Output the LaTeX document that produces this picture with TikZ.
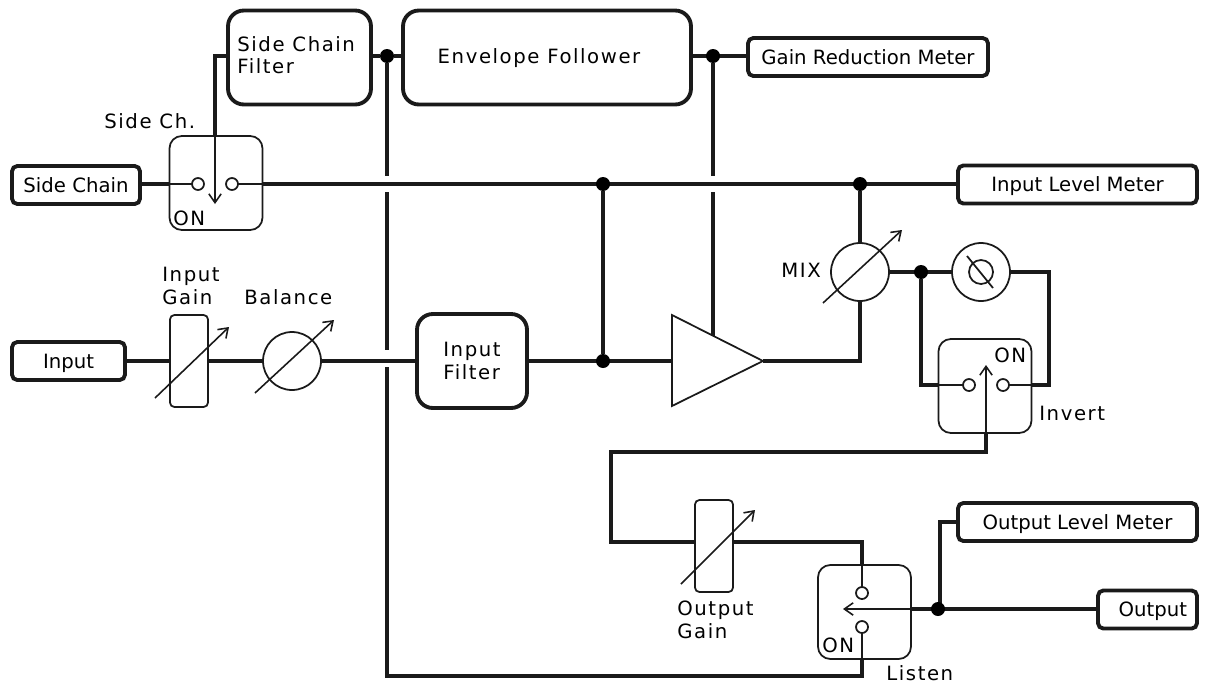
\documentclass[tikz,border=0pt]{standalone}
\usepackage{fontspec}
\setmainfont{DejaVu Sans}
\newfontfamily\labelfont[LetterSpace=8]{DejaVu Sans}
\usetikzlibrary{arrows.meta}
\definecolor{dgink}{HTML}{1A1A1A}
\tikzset{
  wire/.style={line width=2.2pt, draw=dgink},
  thinwire/.style={line width=1pt, draw=dgink},
  ioblock/.style={draw=dgink, line width=2.2pt, rounded corners=3pt, fill=white, inner sep=0pt, minimum height=0.76cm, font=\fontsize{11.2}{12.8}\selectfont, text height=8.2pt, text depth=0pt},
  fxblock/.style={draw=dgink, line width=2.2pt, rounded corners=9pt, fill=white, inner sep=0pt, minimum height=1.88cm},
  switchbox/.style={draw=dgink, line width=1pt, rounded corners=7pt, inner sep=0pt, minimum width=1.86cm, minimum height=1.88cm},
  faderbox/.style={draw=dgink, line width=1pt, fill=white, rounded corners=2.5pt, inner sep=0pt, minimum width=0.76cm, minimum height=1.84cm},
  knob/.style={circle, draw=dgink, line width=1pt, fill=white, inner sep=0pt, minimum size=1.16cm},
  terminal/.style={circle, inner sep=0pt, minimum size=0.24cm},
  junction/.style={circle, inner sep=0pt, minimum size=0.28cm},
  tag/.style={inner sep=0pt, font=\labelfont\fontsize{11.2}{12.9}\selectfont, align=left},
  vararrow/.style={line width=0.9pt, draw=dgink, -{Straight Barb[length=5pt,width=7pt]}}
}
\begin{document}
\begin{tikzpicture}[x=0.02cm,y=-0.02cm]
  \useasboundingbox (0,0) rectangle (1207,683);
  % blocks with a thick outline
  \node[ioblock, minimum width=2.56cm] (sidechain) at (76,185) {Side Chain};
  \node[ioblock, minimum width=2.26cm] (input) at (68.5,361) {Input\hspace{6pt}};
  \node[ioblock, minimum width=4.8cm] (grmeter) at (868,57) {Gain Reduction Meter};
  \node[ioblock, minimum width=4.78cm] (inmeter) at (1077.5,184.5) {Input Level Meter};
  \node[ioblock, minimum width=4.78cm] (outmeter) at (1077.5,522) {Output Level Meter};
  \node[ioblock, minimum width=1.98cm] (output) at (1147.5,609.5) {\hspace{6pt}Output};
  \node[fxblock, minimum width=2.86cm] (scfilter) at (299.5,57.5) {};
  \node[fxblock, minimum width=5.76cm] (envelope) at (547,57.5) {};
  \node[fxblock, minimum width=2.2cm] (infilter) at (472,361) {};
  % routing points
  \coordinate (scbend) at (215,56);
  \coordinate (busgapa) at (387,176);
  \coordinate (busgapb) at (387,192);
  \coordinate (busgapc) at (387,350);
  \coordinate (busgapd) at (387,367);
  \coordinate (buscorner) at (387,676);
  \coordinate (listencorner) at (862,676);
  \coordinate (envgapa) at (713,176);
  \coordinate (envgapb) at (713,192);
  \coordinate (ampa) at (672,315);
  \coordinate (ampb) at (672,406);
  \coordinate (ampc) at (763,361);
  \coordinate (ampfb) at (713,336);
  \coordinate (mixbend) at (860,361);
  \coordinate (phibend) at (1049,272);
  \coordinate (invfoot) at (986,452);
  \coordinate (loopa) at (611,452);
  \coordinate (loopb) at (611,542);
  \coordinate (ogbend) at (862,542);
  \coordinate (ombend) at (940,522);
  % junctions
  \node[junction] (jbus) at (387,56) {};
  \node[junction] (jenv) at (713,56) {};
  \node[junction] (jsplit) at (603,184) {};
  \node[junction] (jmix) at (860,184) {};
  \node[junction] (jfilter) at (603,361) {};
  \node[junction] (jphi) at (921,272) {};
  \node[junction] (jout) at (938,609) {};
  % switches, faders, knobs
  \node[switchbox] (swside) at (216,183) {};
  \node[terminal] (swsidea) at (198,184) {};
  \node[terminal] (swsideb) at (232,184) {};
  \node[switchbox] (swinv) at (985,386) {};
  \node[terminal] (swinva) at (969,385) {};
  \node[terminal] (swinvb) at (1003,385) {};
  \node[switchbox] (swlisten) at (864.5,612) {};
  \node[terminal] (swlistena) at (862,593) {};
  \node[terminal] (swlistenb) at (862,627) {};
  \node[faderbox] (ingain) at (189,361) {};
  \node[faderbox] (outgain) at (714,546) {};
  \node[knob] (balance) at (292,361) {};
  \node[knob] (mix) at (860,272) {};
  \node[knob] (phase) at (981,272) {};
  % thick links
  \draw[wire] (scfilter.west |- scbend) -- (scbend) -- (scbend |- swside.north);
  \draw[wire] (sidechain.east |- swsidea) -- (swside.west |- swsidea);
  \draw[wire] (swside.east |- swsideb) -- (inmeter.west |- swsideb);
  \draw[wire] (scfilter.east |- jbus) -- (jbus) -- (envelope.west |- jbus);
  \draw[wire] (jbus) -- (busgapa);
  \draw[wire] (busgapb) -- (busgapc);
  \draw[wire] (busgapd) -- (buscorner) -- (listencorner) -- (swlisten.south -| listencorner);
  \draw[wire] (envelope.east |- jenv) -- (grmeter.west |- jenv);
  \draw[wire] (jenv) -- (envgapa);
  \draw[wire] (envgapb) -- (ampfb);
  \draw[wire] (jsplit) -- (jfilter);
  \draw[wire] (jmix) -- (mix.north);
  \draw[wire] (mix.south) -- (mixbend) -- (ampc);
  \draw[wire] (input.east) -- (ingain.west);
  \draw[wire] (ingain.east) -- (balance.west);
  \draw[wire] (balance.east) -- (infilter.west);
  \draw[wire] (infilter.east) -- (ampa |- ampc);
  \draw[wire] (mix.east) -- (phase.west);
  \draw[wire] (jphi) |- (swinv.west |- swinva);
  \draw[wire] (phase.east) -- (phibend) |- (swinv.east |- swinvb);
  \draw[wire] (swinv.south -| invfoot) -- (invfoot) -- (loopa) -- (loopb) -- (outgain.west |- loopb);
  \draw[wire] (outgain.east |- ogbend) -- (ogbend) -- (swlisten.north -| ogbend);
  \draw[wire] (swlisten.east |- jout) -- (output.west |- jout);
  \draw[wire] (outmeter.west) -- (ombend) -- (ombend |- jout);
  % thin links inside the switches
  \draw[thinwire] (swside.west |- swsidea) -- (swsidea);
  \draw[thinwire] (swsideb) -- (swside.east |- swsideb);
  \draw[thinwire] (swinv.west |- swinva) -- (swinva);
  \draw[thinwire] (swinvb) -- (swinv.east |- swinvb);
  \draw[thinwire] (swlisten.north -| ogbend) -- (swlistena);
  \draw[thinwire] (swlistenb) -- (swlisten.south -| listencorner);
  % amplifier
  \draw[line width=1pt, draw=dgink, fill=white, line join=miter] (ampa) -- (ampb) -- (ampc) -- cycle;
  % redraw on top of the wires
  \foreach \n in {jbus,jenv,jsplit,jmix,jfilter,jphi,jout}{
    \fill (\n) circle[radius=0.14cm];
  }
  \foreach \n in {swsidea,swsideb,swinva,swinvb,swlistena,swlistenb}{
    \draw[line width=1pt, draw=dgink, fill=white] (\n) circle[radius=0.12cm];
  }
  % switch levers
  \draw[vararrow] (swside.north -| scbend) -- (215,204);
  \draw[vararrow] (swinv.south -| invfoot) -- (986,365);
  \draw[vararrow] (swlisten.east |- jout) -- (843,609);
  % variable controls
  \draw[vararrow] (155,398) -- (229,327);
  \draw[vararrow] (255,393) -- (334,320);
  \draw[vararrow] (823,303) -- (902,230);
  \draw[vararrow] (681,584) -- (755,510);
  % phase symbol
  \draw[line width=1pt, draw=dgink] (phase) circle[radius=0.24cm];
  \draw[line width=1pt, draw=dgink] (967,256) -- (993,288);
  % texts
  \node[tag, anchor=center] (tenvelope) at (539,58.5) {Envelope Follower};
  \node[tag, anchor=west] (tscfilter) at (237,55) {Side Chain\\Filter};
  \node[tag, anchor=west] (tinfilter) at (443,361) {Input\\Filter};
  \node[tag, anchor=west] (tsidech) at (104,121) {Side Ch.};
  \node[tag, anchor=west] (tingain) at (162,286) {Input\\Gain};
  \node[tag, anchor=west] (tbalance) at (244,297) {Balance};
  \node[tag, anchor=west] (tmix) at (781,270) {MIX};
  \node[tag, anchor=west] (tinvert) at (1039,413) {Invert};
  \node[tag, anchor=west] (toutgain) at (677,620) {Output\\Gain};
  \node[tag, anchor=west] (tlisten) at (886,673) {Listen};
  \node[tag, anchor=west] (tonside) at (173,218) {ON};
  \node[tag, anchor=west] (toninv) at (994,355) {ON};
  \node[tag, anchor=west] (tonlisten) at (822,645) {ON};
\end{tikzpicture}
\end{document}
